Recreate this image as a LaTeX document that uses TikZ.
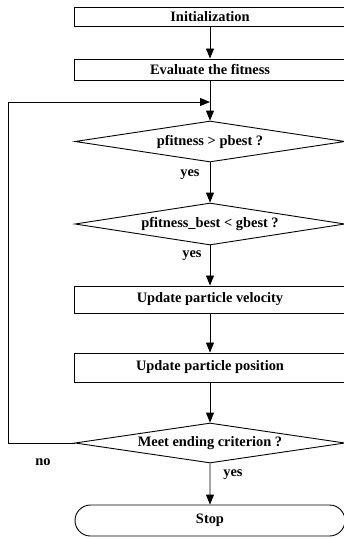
\documentclass[tikz,border=0pt]{standalone}
\usepackage{fontspec}
\setmainfont{Liberation Serif}
\usetikzlibrary{shapes.geometric,shapes.misc,arrows.meta}
\begin{document}
\begin{tikzpicture}[x=1pt,y=-1pt,
  every node/.style={font=\fontsize{14.4}{16}\selectfont\bfseries},
  procbox/.style={draw,line width=1pt,rectangle,minimum width=271pt,inner sep=0pt},
  decbox/.style={draw,line width=0.9pt,diamond,minimum width=270pt,inner sep=0pt,shape aspect=6},
  termbox/.style={draw,line width=0.9pt,rounded rectangle,minimum width=270pt,minimum height=31pt,inner sep=0pt},
  flow/.style={line width=0.9pt,-{Triangle[length=10pt,width=8pt]}}]
\useasboundingbox (0,0) rectangle (344,539);
\node[procbox,minimum height=19pt] (init) at (210,16.5) {Initialization};
\node[procbox,minimum height=21pt] (eval) at (210,69.5) {Evaluate the fitness};
\node[decbox,minimum height=41pt] (d1) at (210,141.5) {pfitness > pbest ?};
\node[decbox,minimum height=42pt] (d2) at (210,224) {pfitness\_best < gbest ?};
\node[procbox,minimum height=27pt] (vel) at (210,299.5) {Update particle velocity};
\node[procbox,minimum height=29pt] (pos) at (210,367.5) {Update particle position};
\node[decbox,minimum height=40pt] (d3) at (210,443) {Meet ending criterion ?};
\node[termbox] (stop) at (210,520.5) {Stop};
\coordinate (fa) at (8,443);
\coordinate (fb) at (8,102);
\coordinate (fc) at (210,102);
\draw[flow] (init) -- (eval);
\draw[flow] (eval) -- (d1);
\draw[flow] (d1) -- (d2);
\draw[flow] (d2) -- (vel);
\draw[flow] (vel) -- (pos);
\draw[flow] (pos) -- (d3);
\draw[flow] (d3) -- (stop);
\draw[flow] (d3.west) -- (fa) -- (fb) -- (fc);
\node (y1) at (190,175) {yes};
\node (y2) at (192,256) {yes};
\node (n3) at (43,462) {no};
\node (y3) at (233,475) {yes};
\end{tikzpicture}
\end{document}
